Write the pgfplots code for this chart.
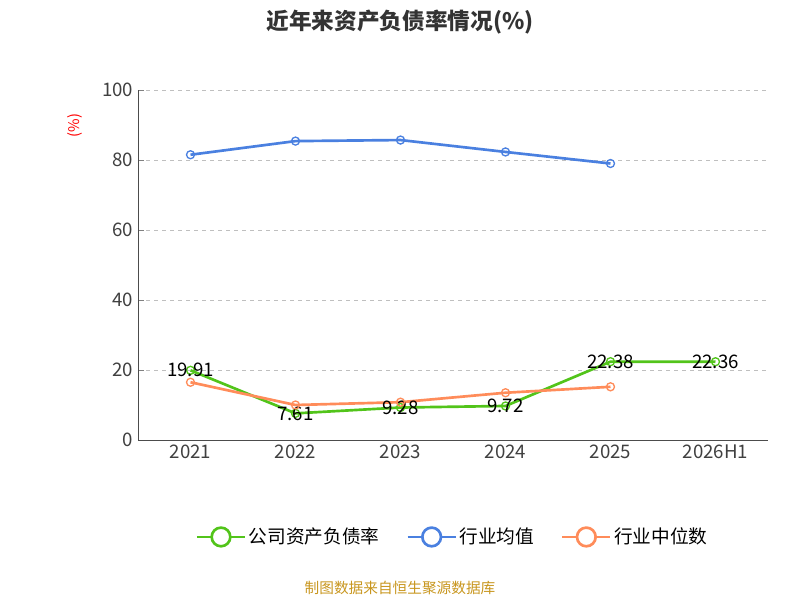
\documentclass[border=0pt]{standalone}
\usepackage{pgfplots}
\pgfplotsset{compat=1.18}
\usepackage{fontspec}
\setmainfont{Noto Sans CJK SC}
\definecolor{cg}{HTML}{52C41A}
\definecolor{cb}{HTML}{4A80E0}
\definecolor{co}{HTML}{FF8C5A}
\definecolor{ct}{HTML}{C8961E}
\begin{document}
\begin{tikzpicture}
\path[use as bounding box] (0pt,0pt) rectangle (600pt,450pt);
\node[font=\bfseries\fontsize{17pt}{20pt}\selectfont,text=black!80] at (300pt,433.5pt) {近年来资产负债率情况(\%)};
\node[font=\fontsize{11pt}{13pt}\selectfont,text=ct] at (300pt,9pt) {制图数据来自恒生聚源数据库};
\node[rotate=90,text=red,font=\fontsize{11pt}{13pt}\selectfont] at (56pt,356pt) {(\%)};
\begin{axis}[at={(103.5pt,120pt)},anchor=south west,scale only axis,
 width=472.5pt,height=262.5pt,
 xmin=-0.5,xmax=5.5,ymin=0,ymax=100,
 xtick={0,...,5},xticklabels={2021,2022,2023,2024,2025,2026H1},
 extra x ticks={-0.5,0.5,...,5.5},extra x tick labels={},
 extra x tick style={major tick length=6pt,grid=none,tick style={draw=black!70}},
 xtick style={draw=none},
 ytick={0,20,...,100},
 ymajorgrids,grid style={dashed,gray!50},
 axis x line*=bottom,axis y line*=left,
 axis line style={black!70},
 tick label style={font=\fontsize{14pt}{16pt}\selectfont,text=black!75},
 /pgf/number format/assume math mode=true,
 legend style={at={(0.5,-0.277)},anchor=center,draw=none,legend columns=3,
   font=\fontsize{14pt}{16pt}\selectfont,/tikz/every even column/.append style={column sep=18pt}},
 legend image code/.code={\draw[#1,mark=none] (0pt,0pt) -- (36pt,0pt); \draw[#1,mark=none,fill=white] (18pt,0pt) circle (7pt);},
 every axis plot/.append style={line width=2pt,mark=o,mark size=3pt,mark options={fill=white,line width=1pt}},
]
\addplot[cg,nodes near coords,point meta=explicit symbolic,
 every node near coord/.append style={font=\fontsize{14pt}{16pt}\selectfont,text=black,anchor=center}]
 coordinates {(0,19.91)[19.91] (1,7.61)[7.61] (2,9.28)[9.28] (3,9.72)[9.72] (4,22.38)[22.38] (5,22.36)[22.36]};
\addlegendentry{公司资产负债率}
\addplot[cb] coordinates {(0,81.5) (1,85.4) (2,85.7) (3,82.3) (4,79.0)};
\addlegendentry{行业均值}
\addplot[co] coordinates {(0,16.5) (1,10.0) (2,10.8) (3,13.5) (4,15.2)};
\addlegendentry{行业中位数}
\end{axis}
\end{tikzpicture}
\end{document}
